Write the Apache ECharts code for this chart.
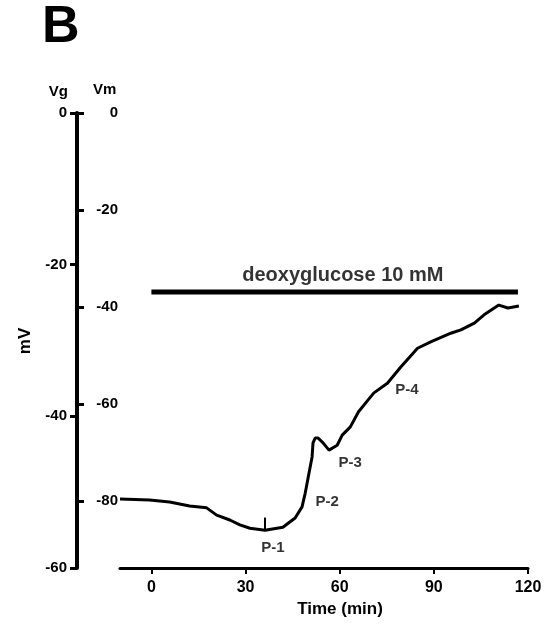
<!DOCTYPE html>
<html>
<head>
<meta charset="utf-8">
<script src="https://cdn.jsdelivr.net/npm/echarts@6/dist/echarts.min.js"></script>
<style>html,body{margin:0;padding:0;background:#fff;}#c{width:555px;height:628px;}</style>
</head>
<body>
<div id="c"></div>
<script>
// Time (min) and membrane potential Vm (mV) of the recording trace
const timeMin = [-10, -0.6, 5.8, 12.2, 17.6, 20.8, 25, 28.2, 31.4, 36.2, 41.9, 45.8, 48, 49, 50, 51.2, 51.5, 52.2, 53.1, 54.7, 56.6, 59.2, 60.8, 63.4, 66, 69, 70.9, 75.2, 79.4, 84.8, 89, 95.4, 98.6, 102.9, 106, 110.7, 113.6, 117.1];
const vm = [-79.6, -79.8, -80.2, -81.0, -81.4, -82.9, -83.9, -84.9, -85.6, -86.0, -85.4, -83.5, -81.2, -78.4, -75.0, -70.9, -68.0, -67.0, -67.0, -68.0, -69.5, -68.5, -66.4, -64.7, -61.6, -59.2, -57.7, -55.7, -52.4, -48.5, -47.2, -45.4, -44.7, -43.3, -41.6, -39.6, -40.2, -39.8];
// drug application bar (start, end in min; level in Vm units)
const drugStart = 0, drugEnd = 116.8, drugLevel = -36.9;
const drugLabel = 'deoxyglucose 10 mM';
// sampling point marker P-1
const p1Marker = [[36.2, -86.0], [36.2, -83.4]];
// annotation labels [time, Vm, text]
const annotations = [[38.7, -89.7, 'P-1'], [56.0, -80.2, 'P-2'], [63.3, -72.2, 'P-3'], [81.4, -57.1, 'P-4']];
// axes
const xTicks = [0, 30, 60, 90, 120];
const vgMin = -60, vgMax = 0, vgInterval = 20;
const vmTicks = [0, -20, -40, -60, -80];
const vmMin = -93.8, vmMax = 0;

const FONT = "'Liberation Sans', Arial, sans-serif";
const chart = echarts.init(document.getElementById('c'));
chart.setOption({
  backgroundColor: '#fff',
  animation: false,
  textStyle: {fontFamily: FONT, color: '#000'},
  graphic: [
    {type: 'text', left: 42, top: 2, style: {text: 'B', font: "bold 52px 'Liberation Sans', Arial", fill: '#000'}},
    {type: 'text', x: 25, y: 341, rotation: Math.PI / 2, style: {text: 'mV', font: "bold 17px 'Liberation Sans', Arial", fill: '#000', align: 'center', verticalAlign: 'middle'}}
  ],
  grid: {left: 120, right: 27, top: 113, bottom: 60},
  xAxis: {
    type: 'value', min: -10, max: 120,
    axisLine: {show: true, onZero: false, lineStyle: {color: '#000', width: 3}},
    axisTick: {show: true, customValues: xTicks, length: 6, lineStyle: {color: '#000', width: 2}},
    axisLabel: {customValues: xTicks, fontSize: 16, fontWeight: 'bold', color: '#000', margin: 12, fontFamily: FONT},
    splitLine: {show: false},
    name: 'Time (min)', nameLocation: 'middle', nameGap: 33,
    nameTextStyle: {fontSize: 17, fontWeight: 'bold', color: '#000', fontFamily: FONT, padding: [0, 0, 0, 32]}
  },
  yAxis: [{
    type: 'value', position: 'left', offset: 43, min: vgMin, max: vgMax, interval: vgInterval,
    axisLine: {show: true, onZero: false, lineStyle: {color: '#000', width: 4}},
    axisTick: {show: true, length: 7, lineStyle: {color: '#000', width: 3}},
    axisLabel: {fontSize: 15, fontWeight: 'bold', color: '#000', margin: 10, fontFamily: FONT},
    splitLine: {show: false},
    name: 'Vg', nameLocation: 'end', nameGap: 14,
    nameTextStyle: {fontSize: 15, fontWeight: 'bold', color: '#000', align: 'right', padding: [0, 9, 0, 0]}
  }, {
    type: 'value', position: 'left', offset: 43, min: vmMin, max: vmMax,
    axisLine: {show: false, onZero: false},
    axisTick: {show: true, inside: true, customValues: vmTicks, length: 7, lineStyle: {color: '#000', width: 3}},
    axisLabel: {inside: true, customValues: vmTicks, fontSize: 15, fontWeight: 'bold', color: '#000', margin: 41, align: 'right', fontFamily: FONT},
    splitLine: {show: false},
    name: 'Vm', nameLocation: 'end', nameGap: 16,
    nameTextStyle: {fontSize: 15, fontWeight: 'bold', color: '#000', align: 'left', padding: [0, 0, 0, 16]}
  }],
  series: [{
    type: 'line', yAxisIndex: 1, data: timeMin.map((t, i) => [t, vm[i]]),
    showSymbol: false, lineStyle: {color: '#000', width: 3}, z: 3
  }, {
    type: 'line', yAxisIndex: 1, data: [[drugStart, drugLevel], [drugEnd, drugLevel]],
    showSymbol: false, lineStyle: {color: '#000', width: 5}
  }, {
    type: 'line', yAxisIndex: 1, data: p1Marker,
    showSymbol: false, lineStyle: {color: '#000', width: 2}
  }, {
    type: 'scatter', yAxisIndex: 1, symbolSize: 1, itemStyle: {color: 'rgba(0,0,0,0)'},
    data: annotations.map(a => ({value: [a[0], a[1]], name: a[2]})),
    label: {show: true, position: 'inside', formatter: p => p.name, fontSize: 15, fontWeight: 'bold', color: '#000', fontFamily: FONT}
  }, {
    type: 'scatter', yAxisIndex: 1, symbolSize: 1, itemStyle: {color: 'rgba(0,0,0,0)'},
    data: [{value: [(drugStart + drugEnd) / 2 + 2.6, drugLevel + 3.5], name: drugLabel}],
    label: {show: true, position: 'inside', formatter: p => p.name, fontSize: 20, fontWeight: 'bold', color: '#000', fontFamily: FONT}
  }]
});
</script>
</body>
</html>
